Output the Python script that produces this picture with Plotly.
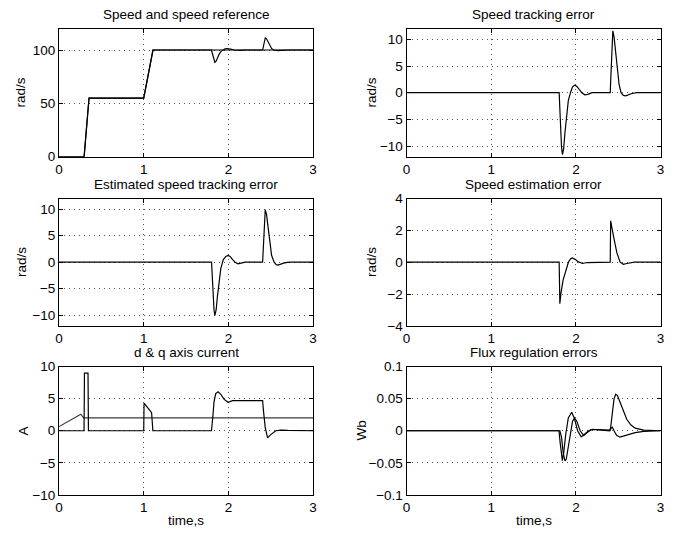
import plotly.graph_objects as go

# ---------------- data ----------------
t_ref = [0, 0.296, 0.354, 1.0, 1.109, 3.0]
speed_ref = [0, 0, 55, 55, 100, 100]

t_speed = [0, 0.296, 0.354, 1.0, 1.109, 1.80, 1.81, 1.82, 1.83, 1.84, 1.855, 1.87, 1.89, 1.91,
           1.935, 1.96, 1.985, 2.01, 2.04, 2.07, 2.105, 2.14, 2.19, 2.405, 2.415, 2.425, 2.436,
           2.45, 2.47, 2.49, 2.51, 2.533, 2.56, 2.588, 2.62, 2.66, 2.72, 3.0]
speed = [0, 0, 55, 55, 100, 100, 97, 93, 89.5, 88.4, 89.5, 92.5, 96, 98.5,
         100, 101.1, 101.4, 101.2, 100.6, 100, 99.6, 99.7, 100, 100, 104, 109, 111.6,
         110.5, 107, 103.8, 101.5, 100, 99.5, 99.4, 99.6, 99.85, 100, 100]

t_err = [0, 1.802, 1.81, 1.82, 1.83, 1.841, 1.855, 1.87, 1.89, 1.91, 1.935, 1.96, 1.985, 2.01,
         2.04, 2.07, 2.105, 2.14, 2.19, 2.405, 2.415, 2.425, 2.436, 2.45, 2.47, 2.49, 2.51,
         2.533, 2.56, 2.588, 2.62, 2.66, 2.72, 3.0]
track_err = [0, 0, -3, -7, -10.3, -11.6, -10.5, -7.5, -4, -1.5, 0, 1.1, 1.4, 1.2,
             0.6, 0, -0.4, -0.3, 0, 0, 4, 9, 11.6, 10.5, 7, 3.8, 1.5,
             0, -0.5, -0.6, -0.4, -0.15, 0, 0]

t_est = [0, 1.801, 1.81, 1.82, 1.83, 1.840, 1.855, 1.87, 1.89, 1.91, 1.94, 1.97, 1.996, 2.02,
         2.05, 2.08, 2.113, 2.15, 2.2, 2.404, 2.413, 2.424, 2.435, 2.45, 2.47, 2.49, 2.51,
         2.54, 2.565, 2.587, 2.62, 2.66, 2.72, 3.0]
est_track_err = [0, 0, -2.8, -6.3, -9.0, -10.0, -9.0, -6.5, -3.5, -1.2, 0.5, 1.1, 1.28, 1.1,
                 0.5, 0, -0.3, -0.2, 0, 0, 3.5, 7.8, 9.9, 9.0, 6.0, 3.2, 1.3,
                 0, -0.45, -0.55, -0.35, -0.12, 0, 0]

t_sest = [0, 1.802, 1.81, 1.821, 1.848, 1.879, 1.911, 1.935, 1.957, 1.99, 2.03, 2.08, 2.13,
          2.405, 2.41, 2.444, 2.483, 2.522, 2.56, 2.6, 2.69, 3.0]
speed_est_err = [0, 0, -2.6, -2.04, -1.12, -0.51, 0, 0.2, 0.27, 0.18, 0.02, -0.08, -0.02,
                 0, 2.6, 1.63, 0.6, 0, -0.13, -0.08, 0, 0]

t_id = [0, 0.257, 0.29, 3.0]
i_d = [0.65, 2.58, 2.0, 2.0]

t_iq = [0, 0.295, 0.30, 0.342, 0.347, 1.0, 1.004, 1.093, 1.108, 1.80, 1.815, 1.83, 1.85,
        1.879, 1.91, 1.95, 1.996, 2.05, 2.2, 2.404, 2.415, 2.435, 2.463, 2.5, 2.56, 2.62, 2.7, 3.0]
i_q = [0, 0, 9.0, 9.0, 0, 0, 4.3, 2.83, 0, 0, 2.0, 4.5, 5.8,
       6.1, 5.7, 4.9, 4.45, 4.7, 4.7, 4.7, 3.0, 0.5, -1.1, -0.6, 0, 0.1, 0.05, 0]

t_fa = [0, 1.80, 1.815, 1.83, 1.84, 1.855, 1.88, 1.91, 1.95, 1.98, 2.02, 2.062, 2.1, 2.15,
        2.2, 2.3, 2.4, 2.415, 2.43, 2.45, 2.48, 2.52, 2.6, 2.7, 2.8, 3.0]
flux_a = [0, 0, -0.02, -0.042, -0.0466, -0.035, -0.005, 0.02, 0.029, 0.02, 0.0, -0.0096, -0.006, 0.0,
          0.002, 0.001, 0, 0.004, 0.0056, 0.0, -0.007, -0.010, -0.007, -0.003, -0.001, 0]

t_fb = [0, 1.81, 1.83, 1.85, 1.87, 1.885, 1.91, 1.94, 1.96, 1.984, 2.01, 2.05, 2.093, 2.13,
        2.18, 2.25, 2.4, 2.41, 2.43, 2.45, 2.47, 2.49, 2.52, 2.56, 2.6, 2.65, 2.7, 2.8, 3.0]
flux_b = [0, 0, -0.01, -0.035, -0.047, -0.045, -0.025, 0.0, 0.015, 0.0197, 0.015, 0.0, -0.0076, -0.003,
          0.002, 0.002, 0.001, 0.005, 0.03, 0.05, 0.057, 0.055, 0.045, 0.03, 0.018, 0.009, 0.004, 0.001, 0]

titles = ["Speed and speed reference", "Speed tracking error",
          "Estimated speed tracking error", "Speed estimation error",
          "d & q axis current", "Flux regulation errors"]
ylabels = ["rad/s", "rad/s", "rad/s", "rad/s", "A", "Wb"]
yranges = [[0, 120], [-12, 12], [-12, 12], [-4, 4], [-10, 10], [-0.1, 0.1]]
yticks = [[0, 50, 100], [-10, -5, 0, 5, 10], [-10, -5, 0, 5, 10], [-4, -2, 0, 2, 4],
          [-10, -5, 0, 5, 10], [-0.1, -0.05, 0, 0.05, 0.1]]
yticktext = [["0", "50", "100"], ["−10", "−5", "0", "5", "10"], ["−10", "−5", "0", "5", "10"],
             ["−4", "−2", "0", "2", "4"], ["−10", "−5", "0", "5", "10"],
             ["−0.1", "−0.05", "0", "0.05", "0.1"]]
xticks = [0, 1, 2, 3]

# ---------------- layout geometry ----------------
W, H = 691, 541
xdoms = [[55.7 / W, 312.7 / W], [407.3 / W, 664.3 / W]]
ydoms = [[1 - 154.0 / H, 1 - 22.3 / H], [1 - 328.0 / H, 1 - 197.0 / H], [1 - 501.7 / H, 1 - 370.0 / H]]
ylab_x = [17 / W, 372 / W, 17 / W, 372 / W, 20 / W, 362 / W]

FONT = "Liberation Sans, Arial, Helvetica, sans-serif"
FS = 13.5

fig = go.Figure()

series = [
    (0, t_ref, speed_ref, "black"),
    (0, t_speed, speed, "black"),
    (1, t_err, track_err, "black"),
    (2, t_est, est_track_err, "black"),
    (3, t_sest, speed_est_err, "black"),
    (4, t_id, i_d, "#3a3a3a"),
    (4, t_iq, i_q, "black"),
    (5, t_fa, flux_a, "black"),
    (5, t_fb, flux_b, "black"),
]
for k, x, y, c in series:
    sfx = "" if k == 0 else str(k + 1)
    fig.add_trace(go.Scatter(x=x, y=y, mode="lines", line=dict(color=c, width=1.2),
                             xaxis="x" + sfx, yaxis="y" + sfx, showlegend=False,
                             hoverinfo="skip"))

layout = dict(width=W, height=H, margin=dict(l=0, r=0, t=0, b=0),
              paper_bgcolor="white", plot_bgcolor="white",
              font=dict(family=FONT, size=FS, color="black"), showlegend=False)
annotations = []
for k in range(6):
    r, c = divmod(k, 2)
    sfx = "" if k == 0 else str(k + 1)
    common = dict(showline=True, linecolor="black", linewidth=1, mirror="ticks",
                  ticks="inside", ticklen=4, tickcolor="black", tickwidth=1,
                  showgrid=True, gridcolor="#555", griddash="1px,4px", gridwidth=1,
                  zeroline=False, tickfont=dict(family=FONT, size=FS, color="black"))
    layout["xaxis" + sfx] = dict(domain=xdoms[c], range=[0, 3], anchor="y" + sfx,
                                 tickvals=xticks, ticktext=[str(v) for v in xticks], **common)
    layout["yaxis" + sfx] = dict(domain=ydoms[r], range=yranges[k], anchor="x" + sfx,
                                 tickvals=yticks[k], ticktext=yticktext[k], **common)
    xc = (xdoms[c][0] + xdoms[c][1]) / 2
    annotations.append(dict(text=titles[k], x=xc, y=ydoms[r][1], xref="paper", yref="paper",
                            xanchor="center", yanchor="bottom", yshift=5, showarrow=False,
                            font=dict(family=FONT, size=FS, color="black")))
    annotations.append(dict(text=ylabels[k], x=ylab_x[k], y=(ydoms[r][0] + ydoms[r][1]) / 2,
                            xref="paper", yref="paper", xanchor="center", yanchor="middle",
                            textangle=-90, showarrow=False,
                            font=dict(family=FONT, size=FS, color="black")))
for c in range(2):
    xc = (xdoms[c][0] + xdoms[c][1]) / 2
    annotations.append(dict(text="time,s", x=xc, y=1 - 528 / H, xref="paper", yref="paper",
                            xanchor="center", yanchor="middle", showarrow=False,
                            font=dict(family=FONT, size=FS, color="black")))
layout["annotations"] = annotations
fig.update_layout(**layout)
fig.write_html("out.html", config={"displayModeBar": False, "staticPlot": True},
               post_script="document.body.style.margin='0';document.body.style.overflow='hidden';")
